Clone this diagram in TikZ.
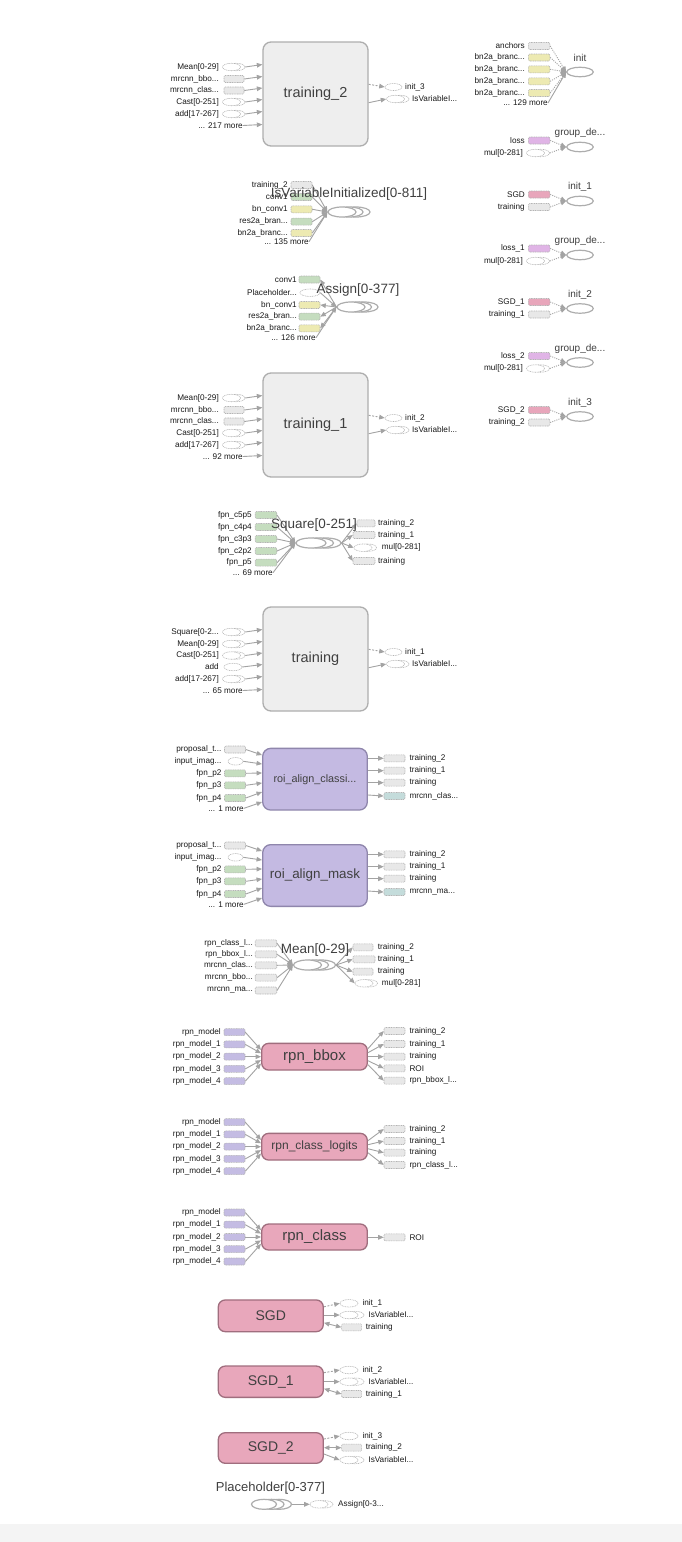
\documentclass[tikz,border=0pt]{standalone}
\usepackage{fontspec}
\setmainfont{Liberation Sans}
\usetikzlibrary{arrows.meta,shapes.geometric,calc}

\definecolor{conncol}{HTML}{A3A3A3}
\definecolor{boxfill}{HTML}{EEEEEE}
\definecolor{boxline}{HTML}{AEAEAE}
\definecolor{smline}{HTML}{B4B4B4}
\definecolor{grayf}{HTML}{E8E8E8}
\definecolor{yelf}{HTML}{EDEAB2}
\definecolor{grnf}{HTML}{C5DDBF}
\definecolor{lavf}{HTML}{C4BCE3}
\definecolor{violf}{HTML}{E0B4E6}
\definecolor{pinkf}{HTML}{E8A6BB}
\definecolor{tealf}{HTML}{C4DCDB}
\definecolor{purpfill}{HTML}{C4BAE2}
\definecolor{purpline}{HTML}{8F86AC}
\definecolor{pinkfill}{HTML}{E8A7BB}
\definecolor{pinkline}{HTML}{A06E7E}
\definecolor{txtcol}{HTML}{1A1A1A}
\definecolor{bigtxt}{HTML}{404040}
\definecolor{ellcol}{HTML}{ADADAD}
\definecolor{footer}{HTML}{F4F4F4}

\tikzset{
  slbl/.style={font=\fontsize{8.2}{9}\selectfont, text=txtcol, inner sep=0pt},
  lt/.style={slbl, anchor=east},
  rt/.style={slbl, anchor=west},
  srect/.style={rectangle, rounded corners=1.2pt, draw=smline, line width=0.55pt,
    dash pattern=on 1pt off 0.7pt, minimum height=7pt, minimum width=21pt, inner sep=0pt},
  dell/.style={ellipse, draw=smline, line width=0.55pt, dash pattern=on 1pt off 0.7pt,
    fill=white, minimum height=7.5pt, minimum width=18pt, inner sep=0pt},
  conn/.style={draw=conncol, line width=0.9pt, -{Triangle[length=5.5pt,width=4.6pt]}},
  bconn/.style={draw=conncol, line width=0.9pt, {Triangle[length=5.5pt,width=4.6pt]}-{Triangle[length=5.5pt,width=4.6pt]}},
  cconn/.style={conn, dash pattern=on 2pt off 1.5pt},
  dconn/.style={conn, dash pattern=on 1pt off 1.2pt},
  bigbox/.style={rectangle, rounded corners=8pt, draw=boxline, fill=boxfill, line width=1.3pt,
    minimum width=105pt, minimum height=104pt, font=\fontsize{14.5}{16}\selectfont, text=bigtxt},
  purpbox/.style={rectangle, rounded corners=8pt, draw=purpline, fill=purpfill, line width=1.3pt,
    minimum width=104.6pt, minimum height=61.7pt, text=bigtxt},
  pinkbox/.style={rectangle, rounded corners=7pt, draw=pinkline, fill=pinkfill, line width=1.3pt,
    minimum width=105.6pt, minimum height=26.7pt, text=bigtxt},
  sell/.style={ellipse, draw=ellcol, fill=white, line width=1.2pt, inner sep=0pt, minimum height=10pt},
  ttl/.style={font=\fontsize{13.5}{15}\selectfont, text=bigtxt, inner sep=0pt},
  gttl/.style={font=\fontsize{10}{11}\selectfont, text=bigtxt, inner sep=0pt},
}

% three full stops of a shortened name (kept out of \foreach lists)
\newcommand\trunc{...}

% dashed two-ellipse glyph of a series: front node #2, back node #2b
\newcommand\dser[4][4.5]{%
  \node[dell] (#2b) at (#3+#1,#4) {};
  \node[dell] (#2) at (#3,#4) {};}
% solid stacked ellipses of a series: front #1, then #1b, #1c
\newcommand\sstack[5]{%
  \node[sell,minimum width=#4] (#1c) at (#2+2*#5,#3) {};
  \node[sell,minimum width=#4] (#1b) at (#2+#5,#3) {};
  \node[sell,minimum width=#4] (#1) at (#2,#3) {};}

% inputs of the large training boxes
\newcommand\tinser[4]{%
  \dser{#1}{231.5}{#3}
  \node[lt] (#1l) at (219,#3) {#4};
  \draw[conn] (#1b.east) -- ($(#2.west |- #1)+(0,-2.5)$);}
\newcommand\tinrect[5]{%
  \node[srect,fill=#5,minimum width=20] (#1) at (234,#3) {};
  \node[lt] (#1l) at (219,#3) {#4};
  \draw[conn] (#1.east) -- ($(#2.west |- #1)+(0,-2.5)$);}
\newcommand\tinell[4]{%
  \node[dell] (#1) at (233,#3) {};
  \node[lt] (#1l) at (219,#3) {#4};
  \draw[conn] (#1.east) -- ($(#2.west |- #1)+(0,-2.5)$);}
\newcommand\tinmore[4]{%
  \node[lt] (#1) at (243,#3) {#4};
  \draw[conn] (#1.east) -- ($(#2.west |- #1)+(0,-1)$);}
% outputs of the large training boxes
\newcommand\toutputs[5]{%
  \node[dell,minimum width=17,minimum height=7] (#4i) at (393.5,#2) {};
  \node[rt] (#4il) at (405,#2) {#3};
  \draw[cconn] ($(#1.east)+(0,-9.7)$) -- (#4i.west);
  \dser{#4v}{395.5}{#5}
  \node[rt] (#4vl) at (412,#5) {IsVariableI...};
  \draw[conn] ($(#1.east)+(0,8.7)$) -- (#4v.west);}

% small groups of the right column
\newcommand\rgrp[8]{%
  \node[sell,minimum width=26.5,minimum height=9.5] (#1) at (580,#2) {};
  \node[gttl] (#1t) at (580,#2-14) {#3};
  \node[srect,fill=#5,minimum width=21.5] (#1a) at (539.2,#2-6.5) {};
  \node[lt] (#1al) at (525,#2-6.5) {#4};
  \draw[dconn] (#1a.east) -- (#1.west);
  \ifnum#7=1
    \dser[5]{#1b}{535.5}{#2+6}
    \node[lt] (#1bl) at (523,#2+6) {#6};
    \draw[dconn] (#1bb.east) -- (#1.west);
  \else
    \node[srect,fill=#8,minimum width=21.5] (#1b) at (539.2,#2+6) {};
    \node[lt] (#1bl) at (525,#2+6) {#6};
    \draw[dconn] (#1b.east) -- (#1.west);
  \fi}

% roi / rpn boxes: inputs and outputs
\newcommand\rinrect[6]{%
  \node[srect,fill=#5] (#1) at (235,#3) {};
  \node[lt] (#1l) at (221.7,#3) {#4};
  \draw[conn] (#1.east) -- (#2.west |- 0,#6);}
\newcommand\rinell[5]{%
  \node[dell,minimum width=15] (#1) at (235.5,#3) {};
  \node[lt] (#1l) at (221.7,#3) {#4};
  \draw[conn] (#1.east) -- (#2.west |- 0,#5);}
\newcommand\rinmore[5]{%
  \node[lt] (#1) at (244,#3) {#4};
  \draw[conn] (#1.east) -- (#2.west |- 0,#5);}
\newcommand\routrect[6]{%
  \node[srect,fill=#5] (#1) at (394.5,#3) {};
  \node[rt] (#1l) at (409.3,#3) {#4};
  \draw[conn] (#2.east |- 0,#6) -- (#1.west);}
\newcommand\rpnin[3]{%
  \foreach \i/\lab/\dy in {0/rpn\_model/-24.5,1/rpn\_model\_1/-12.3,2/rpn\_model\_2/0,3/rpn\_model\_3/12.2,4/rpn\_model\_4/24.5}{
    \node[srect,fill=lavf] (#1\i) at (234.5,#3+\dy) {};
    \node[lt] (#1l\i) at (221,#3+\dy) {\lab};
    \draw[conn] (#1\i.east) -- ($(#2.west)+(0,{(\i-2)*3.4})$);}}

\begin{document}
\begin{tikzpicture}[x=1pt,y=-1pt]
\path[use as bounding box] (0,0) rectangle (682,1542);
\fill[white] (0,0) rectangle (682,1542);
\fill[footer] (0,1524) rectangle (682,1542);

% ---------------- training_2 ----------------
\node[bigbox] (t2) at (315.5,94) {training\_2};
\tinser{t2a}{t2}{67}{Mean[0-29]}
\tinrect{t2b}{t2}{79}{mrcnn\_bbo...}{grayf}
\tinrect{t2c}{t2}{90.5}{mrcnn\_clas...}{grayf}
\tinser{t2d}{t2}{102}{Cast[0-251]}
\tinser{t2e}{t2}{114}{add[17-267]}
\tinmore{t2f}{t2}{125.5}{... 217 more}
\toutputs{t2}{87}{init\_3}{t2o}{99}

% ---------------- right column ----------------
\node[sell,minimum width=26.5,minimum height=9.5] (ini) at (580,72) {};
\node[gttl] (init) at (580,58) {init};
\node[srect,fill=grayf,minimum width=21.5] (inia) at (539.2,46) {};
\node[lt] (inial) at (525,46) {anchors};
\draw[dconn] (inia.east) -- (ini.west);
\foreach \n/\y in {b/57.5,c/69.3,d/81.3,e/93}{
  \node[srect,fill=yelf,minimum width=21.5] (ini\n) at (539.2,\y) {};
  \node[lt] (ini\n l) at (525,\y) {bn2a\_branc\trunc};
  \draw[dconn] (ini\n.east) -- (ini.west);}
\node[lt] (inim) at (548,103) {... 129 more};
\draw[conn] (inim.east) -- (ini.west);

\rgrp{gd0}{147}{group\_de...}{loss}{violf}{mul[0-281]}{1}{grayf}
\rgrp{in1}{201}{init\_1}{SGD}{pinkf}{training}{0}{grayf}
\rgrp{gd1}{255}{group\_de...}{loss\_1}{violf}{mul[0-281]}{1}{grayf}
\rgrp{in2}{308.5}{init\_2}{SGD\_1}{pinkf}{training\_1}{0}{grayf}
\rgrp{gd2}{362.5}{group\_de...}{loss\_2}{violf}{mul[0-281]}{1}{grayf}
\rgrp{in3}{416.5}{init\_3}{SGD\_2}{pinkf}{training\_2}{0}{grayf}

% ---------------- IsVariableInitialized ----------------
\sstack{isv}{342}{212}{28}{7}
\foreach \n/\lab/\fc/\y in {1/training\_2/grayf/185,2/conv1/grnf/197,3/bn\_conv1/yelf/209.3,4/res2a\_bran\trunc/grnf/221.7,5/bn2a\_branc\trunc/yelf/233}{
  \node[srect,fill=\fc] (isvr\n) at (301.5,\y) {};
  \node[lt] (isvl\n) at (288,\y) {\lab};
  \draw[conn] (isvr\n.east) -- (isv.west);}
\node[lt] (isvm) at (309,241.7) {... 135 more};
\draw[conn] (isvm.east) -- (isv.west);
\node[ttl] (isvt) at (349,194) {IsVariableInitialized[0-811]};

% ---------------- Assign ----------------
\sstack{asg}{351}{307}{28}{6.5}
\foreach \n/\lab/\fc/\y in {1/conv1/grnf/279.5,3/bn\_conv1/yelf/305,4/res2a\_bran\trunc/grnf/316.7,5/bn2a\_branc\trunc/yelf/328.3}{
  \node[srect,fill=\fc] (asgr\n) at (309.5,\y) {};
  \node[lt] (asgl\n) at (297,\y) {\lab};
  \draw[conn] (asg.west) -- (asgr\n.east);}
\node[dell,minimum width=20] (asgp) at (310,292.7) {};
\node[lt] (asgpl) at (297,292.7) {Placeholder...};
\draw[conn] (asgp.east) -- (asg.west);
\node[lt] (asgm) at (316,337.7) {... 126 more};
\draw[conn] (asgm.east) -- (asg.west);
\node[ttl] (asgt) at (358,290) {Assign[0-377]};

% ---------------- training_1 ----------------
\node[bigbox] (t1) at (315.5,425) {training\_1};
\tinser{t1a}{t1}{398}{Mean[0-29]}
\tinrect{t1b}{t1}{410}{mrcnn\_bbo...}{grayf}
\tinrect{t1c}{t1}{421.5}{mrcnn\_clas...}{grayf}
\tinser{t1d}{t1}{433}{Cast[0-251]}
\tinser{t1e}{t1}{445}{add[17-267]}
\tinmore{t1f}{t1}{456.5}{... 92 more}
\toutputs{t1}{418}{init\_2}{t1o}{430}

% ---------------- Square ----------------
\sstack{sq}{311}{543}{30}{7.5}
\foreach \n/\lab/\y in {1/fpn\_c5p5/515,2/fpn\_c4p4/527,3/fpn\_c3p3/539,4/fpn\_c2p2/551,5/fpn\_p5/562.7}{
  \node[srect,fill=grnf,minimum width=21.5] (sqr\n) at (266,\y) {};
  \node[lt] (sql\n) at (252,\y) {\lab};
  \draw[conn] (sqr\n.east) -- (sq.west);}
\node[lt] (sqm) at (273,572.7) {... 69 more};
\draw[conn] (sqm.east) -- (sq.west);
\node[srect,fill=grayf,minimum width=18] (sqo1) at (366,523.3) {};
\node[rt] (sqo1l) at (378,523.3) {training\_2};
\draw[conn] (sqc.east) -- (sqo1.west);
\node[srect,fill=grayf,minimum width=22] (sqo2) at (364,535) {};
\node[rt] (sqo2l) at (378,535) {training\_1};
\draw[conn] (sqc.east) -- (sqo2.west);
\dser{sqo3}{363}{547.7}
\node[rt] (sqo3l) at (381.7,547.7) {mul[0-281]};
\draw[conn] (sqc.east) -- (sqo3.west);
\node[srect,fill=grayf,minimum width=22] (sqo4) at (364,561) {};
\node[rt] (sqo4l) at (378,561) {training};
\draw[conn] (sqc.east) -- (sqo4.west);
\node[ttl] (sqt) at (314,525) {Square[0-251]};

% ---------------- training ----------------
\node[bigbox] (t0) at (315.5,659) {training};
\tinser{t0a}{t0}{632}{Square[0-2...}
\tinser{t0b}{t0}{644}{Mean[0-29]}
\tinser{t0c}{t0}{655.5}{Cast[0-251]}
\tinell{t0d}{t0}{667}{add}
\tinser{t0e}{t0}{679}{add[17-267]}
\tinmore{t0f}{t0}{690.5}{... 65 more}
\toutputs{t0}{652}{init\_1}{t0o}{664}

% ---------------- roi_align_classifier ----------------
\node[purpbox,font=\fontsize{10.8}{12}\selectfont] (rac) at (315,779.2) {roi\_align\_classi...};
\rinrect{raca}{rac}{749.5}{proposal\_t...}{grayf}{755}
\rinell{racb}{rac}{761.3}{input\_imag...}{764}
\rinrect{racc}{rac}{773.3}{fpn\_p2}{grnf}{773}
\rinrect{racd}{rac}{785.3}{fpn\_p3}{grnf}{783}
\rinrect{race}{rac}{798}{fpn\_p4}{grnf}{792}
\rinmore{racf}{rac}{808.3}{... 1 more}{802}
\routrect{raco1}{rac}{758.3}{training\_2}{grayf}{758.3}
\routrect{raco2}{rac}{770.7}{training\_1}{grayf}{770.7}
\routrect{raco3}{rac}{782.7}{training}{grayf}{782.7}
\routrect{raco4}{rac}{796}{mrcnn\_clas...}{tealf}{795}

% ---------------- roi_align_mask ----------------
\node[purpbox,font=\fontsize{13.4}{15}\selectfont] (ram) at (315,875.5) {roi\_align\_mask};
\rinrect{rama}{ram}{845.5}{proposal\_t...}{grayf}{851}
\rinell{ramb}{ram}{857.3}{input\_imag...}{860}
\rinrect{ramc}{ram}{869.3}{fpn\_p2}{grnf}{869}
\rinrect{ramd}{ram}{881.3}{fpn\_p3}{grnf}{879}
\rinrect{rame}{ram}{894}{fpn\_p4}{grnf}{888}
\rinmore{ramf}{ram}{904.3}{... 1 more}{898}
\routrect{ramo1}{ram}{854.3}{training\_2}{grayf}{854.3}
\routrect{ramo2}{ram}{866.7}{training\_1}{grayf}{866.7}
\routrect{ramo3}{ram}{878.7}{training}{grayf}{878.7}
\routrect{ramo4}{ram}{892}{mrcnn\_ma...}{tealf}{891}

% ---------------- Mean ----------------
\sstack{mn}{307.5}{965}{28}{7}
\foreach \n/\lab/\y in {1/rpn\_class\_l\trunc/943.3,2/rpn\_bbox\_l\trunc/954.3,3/mrcnn\_clas\trunc/965.3,4/mrcnn\_bbo\trunc/977.7,5/mrcnn\_ma\trunc/990.5}{
  \node[srect,fill=grayf,minimum width=21.5] (mnr\n) at (266,\y) {};
  \node[lt] (mnl\n) at (253,\y) {\lab};
  \draw[conn] (mnr\n.east) -- (mn.west);}
\node[srect,fill=grayf,minimum width=20] (mno1) at (363,947.3) {};
\node[rt] (mno1l) at (377.7,947.3) {training\_2};
\draw[conn] (mnc.east) -- (mno1.west);
\node[srect,fill=grayf,minimum width=22] (mno2) at (364,959.3) {};
\node[rt] (mno2l) at (377.7,959.3) {training\_1};
\draw[conn] (mnc.east) -- (mno2.west);
\node[srect,fill=grayf,minimum width=20] (mno3) at (363,971.7) {};
\node[rt] (mno3l) at (377.7,971.7) {training};
\draw[conn] (mnc.east) -- (mno3.west);
\dser{mno4}{364}{983.3}
\node[rt] (mno4l) at (381.7,983.3) {mul[0-281]};
\draw[conn] (mnc.east) -- (mno4.west);
\node[ttl] (mnt) at (315,950) {Mean[0-29]};

% ---------------- rpn_bbox ----------------
\node[pinkbox,font=\fontsize{15}{17}\selectfont] (rb) at (314.5,1056.7) {rpn\_bbox};
\rpnin{rbi}{rb}{1056.7}
\routrect{rbo1}{rb}{1031}{training\_2}{grayf}{1048.7}
\routrect{rbo2}{rb}{1044}{training\_1}{grayf}{1052.7}
\routrect{rbo3}{rb}{1056.7}{training}{grayf}{1056.7}
\routrect{rbo4}{rb}{1068.3}{ROI}{grayf}{1060.7}
\routrect{rbo5}{rb}{1080.7}{rpn\_bbox\_l...}{grayf}{1064.7}

% ---------------- rpn_class_logits ----------------
\node[pinkbox,font=\fontsize{12}{14}\selectfont] (rl) at (314.5,1146.7) {rpn\_class\_logits};
\rpnin{rli}{rl}{1146.7}
\routrect{rlo1}{rl}{1129}{training\_2}{grayf}{1140.7}
\routrect{rlo2}{rl}{1141}{training\_1}{grayf}{1144.7}
\routrect{rlo3}{rl}{1152.7}{training}{grayf}{1148.7}
\routrect{rlo4}{rl}{1165}{rpn\_class\_l...}{grayf}{1152.7}

% ---------------- rpn_class ----------------
\node[pinkbox,minimum height=26,font=\fontsize{15}{17}\selectfont] (rc) at (314.5,1237) {rpn\_class};
\rpnin{rci}{rc}{1237}
\routrect{rco1}{rc}{1237.3}{ROI}{grayf}{1237.3}

% ---------------- SGD ----------------
\node[pinkbox,minimum width=105,minimum height=31.7,font=\fontsize{14}{16}\selectfont] (sgd) at (270.8,1315.8) {SGD};
\node[dell] (sgdi) at (349,1303.3) {};
\node[rt] (sgdil) at (362.3,1303.3) {init\_1};
\draw[cconn] ($(sgd.east)+(0,-9)$) -- (sgdi.west);
\dser[6]{sgdv}{349}{1315}
\node[rt] (sgdvl) at (368.3,1315) {IsVariableI...};
\draw[conn] (sgd.east |- sgdv) -- (sgdv.west);
\node[srect,fill=grayf,minimum width=20] (sgdt) at (351.7,1327.3) {};
\node[rt] (sgdtl) at (365.7,1327.3) {training};
\draw[bconn] (sgdt.west) -- ($(sgd.east)+(0,7)$);

% ---------------- SGD_1 ----------------
\node[pinkbox,minimum width=105,minimum height=31.3,font=\fontsize{14}{16}\selectfont] (sgda) at (270.8,1381.7) {SGD\_1};
\node[dell] (sgdai) at (349,1370) {};
\node[rt] (sgdail) at (362.3,1370) {init\_2};
\draw[cconn] ($(sgda.east)+(0,-9)$) -- (sgdai.west);
\dser[6]{sgdav}{349}{1381.7}
\node[rt] (sgdavl) at (368.3,1381.7) {IsVariableI...};
\draw[conn] (sgda.east |- sgdav) -- (sgdav.west);
\node[srect,fill=grayf,minimum width=20] (sgdat) at (351.7,1394) {};
\node[rt] (sgdatl) at (365.7,1394) {training\_1};
\draw[bconn] (sgdat.west) -- ($(sgda.east)+(0,7)$);

% ---------------- SGD_2 ----------------
\node[pinkbox,minimum width=105,minimum height=30.6,font=\fontsize{14}{16}\selectfont] (sgdb) at (270.8,1448) {SGD\_2};
\node[dell] (sgdbi) at (349,1436) {};
\node[rt] (sgdbil) at (362.3,1436) {init\_3};
\draw[cconn] ($(sgdb.east)+(0,-9)$) -- (sgdbi.west);
\node[srect,fill=grayf,minimum width=20] (sgdbt) at (351.7,1447.7) {};
\node[rt] (sgdbtl) at (365.7,1447.7) {training\_2};
\draw[bconn] (sgdbt.west) -- (sgdb.east |- sgdbt);
\dser[6]{sgdbv}{349}{1460}
\node[rt] (sgdbvl) at (368.3,1460) {IsVariableI...};
\draw[conn] ($(sgdb.east)+(0,6)$) -- (sgdbv.west);

% ---------------- Placeholder ----------------
\node[ttl,font=\fontsize{13}{15}\selectfont] (pht) at (270.5,1488.3) {Placeholder[0-377]};
\sstack{ph}{264}{1504.3}{25}{7.5}
\dser[5]{pho}{319}{1504.3}
\node[rt] (phol) at (338,1504.3) {Assign[0-3...};
\draw[conn] (phc.east) -- (pho.west);
\end{tikzpicture}
\end{document}
